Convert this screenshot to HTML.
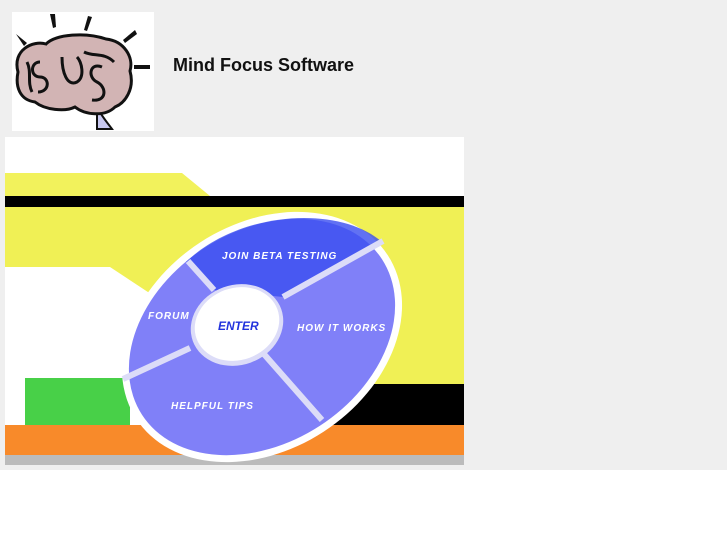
<html><head><style>
body{margin:0;width:727px;height:545px;background:#fff;position:relative;overflow:hidden;font-family:"Liberation Sans",sans-serif}
#bg{position:absolute;left:0;top:0;width:727px;height:470px;background:#efefef}
#logo{position:absolute;left:12px;top:12px;width:142px;height:119px;background:#fff}
#t{position:absolute;left:173px;top:55px;font-weight:bold;font-size:18px;color:#111}
</style></head><body>
<div id="bg"></div>
<div id="logo"><svg width="142" height="119">
<g fill="#111"><path d="M4 22l8 12 3-3z"/><path d="M38 2l3 14 3-1-1-13z"/><path d="M76 4l-4 14 3 1 5-14z"/><path d="M123 18l-12 10 2 3 12-9z"/><path d="M122 53h16v4h-16z"/></g>
<path d="M85 95c5 10 10 15 15 22h-15z" fill="#c8c8f0" stroke="#111" stroke-width="2"/>
<path d="M6 60c-6-22 15-32 28-28 10-10 40-12 60-5 18 2 28 18 24 32 5 18-5 32-15 36-10 10-30 8-40 0-10 5-30 3-40-5-15-2-20-15-17-30z" fill="#d2b4b4" stroke="#111" stroke-width="3"/>
<g fill="none" stroke="#111" stroke-width="3"><path d="M28 50c-10 0-10 15 0 15s10 15-2 15"/><path d="M50 45c0 15 5 30 15 25 8-5 5-20 0-25"/><path d="M90 55c-12-5-15 10-5 15s10 20-5 18"/><path d="M15 50c5 10 0 20 5 30"/><path d="M72 40c10 5 20 0 30 10"/></g>
</svg></div>
<div id="t">Mind Focus Software</div>
<svg style="position:absolute;left:0;top:0" width="727" height="545">
<rect x="5" y="137" width="459" height="328" fill="#fff"/>
<path d="M5 173H182L210 196H5z" fill="#f2f25c"/>
<rect x="5" y="196" width="459" height="11" fill="#000"/>
<path d="M5 207H464V384H5z" fill="#f0f055"/>
<path d="M5 267H110L160 300V384H5z" fill="#fff"/>
<rect x="160" y="384" width="304" height="41" fill="#000"/>
<rect x="25" y="378" width="105" height="47" fill="#48d048"/>
<rect x="5" y="425" width="459" height="30" fill="#f88a2a"/>
<rect x="5" y="455" width="459" height="10" fill="#bbb"/>
<g transform="rotate(-33 262 337)">
<ellipse cx="262" cy="337" rx="150" ry="113" fill="#fff"/>
<ellipse cx="262" cy="337" rx="143" ry="106" fill="#8080f8"/>
</g>
<path d="M186 262L214 290L283 297L382 242C340 205 240 210 186 262z" fill="#3a4ef0" opacity=".8"/>
<g stroke="#dcdcf8" stroke-width="6"><line x1="214" y1="290" x2="188" y2="261"/><line x1="283" y1="297" x2="383" y2="241"/><line x1="263" y1="353" x2="322" y2="420"/><line x1="190" y1="348" x2="123" y2="379"/></g>
<ellipse cx="237" cy="325" rx="47" ry="40" fill="#dcdcf8" transform="rotate(-20 237 325)"/>
<ellipse cx="237" cy="324" rx="43" ry="36" fill="#fff" transform="rotate(-20 237 324)"/>
<g fill="#fff" font-family="Liberation Sans,sans-serif" font-style="italic" font-weight="bold" font-size="10" letter-spacing="1">
<text x="222" y="259">JOIN BETA TESTING</text><text x="148" y="319">FORUM</text><text x="297" y="331">HOW IT WORKS</text><text x="171" y="409">HELPFUL TIPS</text></g>
<text x="218" y="330" fill="#2233dd" font-style="italic" font-weight="bold" font-size="12">ENTER</text>
</svg>
</body></html>
